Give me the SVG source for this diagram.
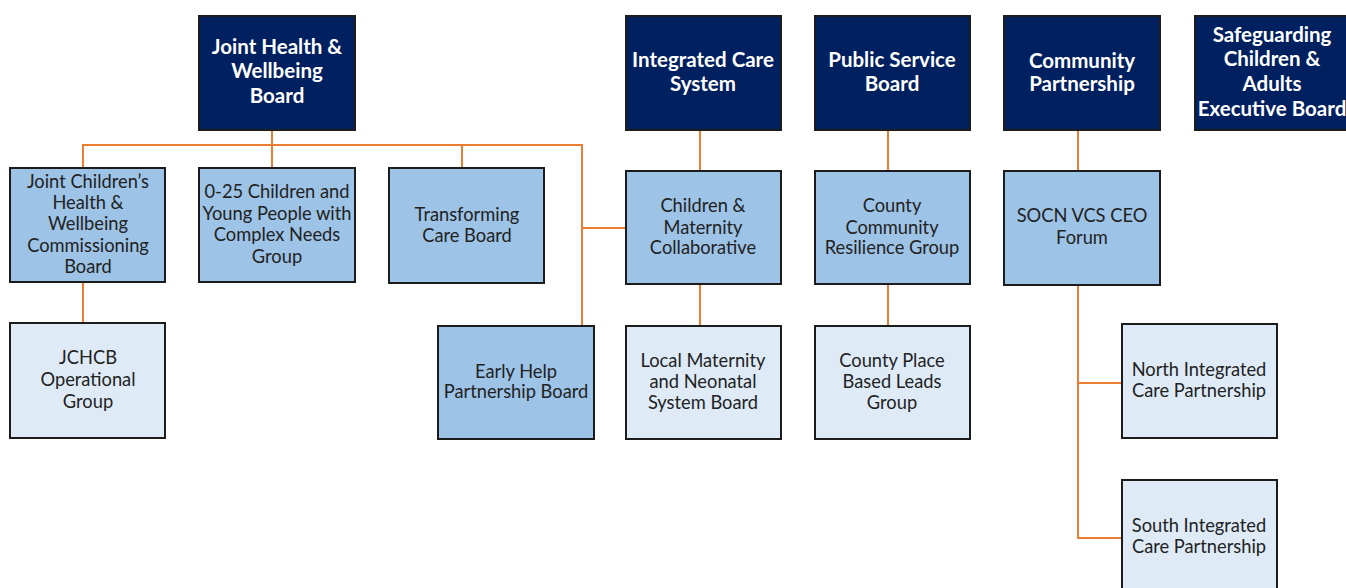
<svg xmlns="http://www.w3.org/2000/svg" width="1346" height="588" viewBox="0 0 1346 588">
  <style>
    .box rect { stroke: #1c1c1c; stroke-width: 2; }
    .top rect { fill: #002060; }
    .mid rect { fill: #9DC3E6; }
    .low rect { fill: #DEEBF7; }
    .top text { font-family: Lato, "Liberation Sans", sans-serif; font-weight: bold; font-size: 20.5px; fill: #ffffff; text-anchor: middle; }
    .mid text, .low text { font-family: Lato, "Liberation Sans", sans-serif; font-size: 18.3px; fill: #222222; text-anchor: middle; }
    .links path { fill: none; stroke: #ED7D31; stroke-width: 2; }
  </style>

  <g class="links" id="connectors">
    <path d="M272,130 V168"/>
    <path d="M83,168 V145 H582 V325"/>
    <path d="M462,145 V168"/>
    <path d="M582,228 H626"/>
    <path d="M83,282 V323"/>
    <path d="M700,130 V171"/>
    <path d="M700,284 V326"/>
    <path d="M888,130 V171"/>
    <path d="M888,284 V326"/>
    <path d="M1078,130 V171"/>
    <path d="M1078,285 V538 H1122"/>
    <path d="M1078,383 H1122"/>
  </g>

  <!-- Top-level boards -->
  <g id="jhwb" class="box top">
    <rect x="199" y="16" width="156" height="114"/>
    <text x="277" y="54">Joint Health &amp;</text>
    <text x="277" y="78">Wellbeing</text>
    <text x="277" y="103">Board</text>
  </g>
  <g id="ics" class="box top">
    <rect x="626" y="16" width="155" height="114"/>
    <text x="703" y="67">Integrated Care</text>
    <text x="703" y="91">System</text>
  </g>
  <g id="psb" class="box top">
    <rect x="815" y="16" width="155" height="114"/>
    <text x="892" y="67">Public Service</text>
    <text x="892" y="91">Board</text>
  </g>
  <g id="community-partnership" class="box top">
    <rect x="1004" y="16" width="156" height="114"/>
    <text x="1082" y="68">Community</text>
    <text x="1082" y="91">Partnership</text>
  </g>
  <g id="safeguarding" class="box top">
    <rect x="1195" y="16" width="160" height="114"/>
    <text x="1272" y="42">Safeguarding</text>
    <text x="1272" y="66">Children &amp;</text>
    <text x="1272" y="91">Adults</text>
    <text x="1272" y="116">Executive Board</text>
  </g>

  <!-- Second tier -->
  <g id="jchwcb" class="box mid">
    <rect x="10" y="168" width="155" height="114"/>
    <text x="88" y="188">Joint Children’s</text>
    <text x="88" y="209">Health &amp;</text>
    <text x="88" y="230">Wellbeing</text>
    <text x="88" y="252">Commissioning</text>
    <text x="88" y="273">Board</text>
  </g>
  <g id="cyp-complex-needs" class="box mid">
    <rect x="199" y="168" width="156" height="114"/>
    <text x="277" y="198">0-25 Children and</text>
    <text x="277" y="220">Young People with</text>
    <text x="277" y="241">Complex Needs</text>
    <text x="277" y="263">Group</text>
  </g>
  <g id="transforming-care" class="box mid">
    <rect x="389" y="168" width="155" height="115"/>
    <text x="467" y="221">Transforming</text>
    <text x="467" y="242">Care Board</text>
  </g>
  <g id="children-maternity" class="box mid">
    <rect x="626" y="171" width="155" height="113"/>
    <text x="703" y="212">Children &amp;</text>
    <text x="703" y="234">Maternity</text>
    <text x="703" y="254">Collaborative</text>
  </g>
  <g id="county-resilience" class="box mid">
    <rect x="815" y="171" width="155" height="113"/>
    <text x="892" y="212">County</text>
    <text x="892" y="234">Community</text>
    <text x="892" y="254">Resilience Group</text>
  </g>
  <g id="socn-forum" class="box mid">
    <rect x="1004" y="171" width="156" height="114"/>
    <text x="1082" y="222">SOCN VCS CEO</text>
    <text x="1082" y="244">Forum</text>
  </g>
  <g id="early-help" class="box mid">
    <rect x="438" y="326" width="156" height="113"/>
    <text x="516" y="378">Early Help</text>
    <text x="516" y="398">Partnership Board</text>
  </g>

  <!-- Third tier -->
  <g id="jchcb-operational" class="box low">
    <rect x="10" y="323" width="155" height="115"/>
    <text x="88" y="364">JCHCB</text>
    <text x="88" y="386">Operational</text>
    <text x="88" y="408">Group</text>
  </g>
  <g id="lmns-board" class="box low">
    <rect x="626" y="326" width="155" height="113"/>
    <text x="703" y="367">Local Maternity</text>
    <text x="703" y="388">and Neonatal</text>
    <text x="703" y="409">System Board</text>
  </g>
  <g id="county-place-leads" class="box low">
    <rect x="815" y="326" width="155" height="113"/>
    <text x="892" y="367">County Place</text>
    <text x="892" y="388">Based Leads</text>
    <text x="892" y="409">Group</text>
  </g>
  <g id="north-icp" class="box low">
    <rect x="1122" y="324" width="155" height="114"/>
    <text x="1199" y="376">North Integrated</text>
    <text x="1199" y="397">Care Partnership</text>
  </g>
  <g id="south-icp" class="box low">
    <rect x="1122" y="480" width="155" height="114"/>
    <text x="1199" y="532">South Integrated</text>
    <text x="1199" y="553">Care Partnership</text>
  </g>
</svg>
